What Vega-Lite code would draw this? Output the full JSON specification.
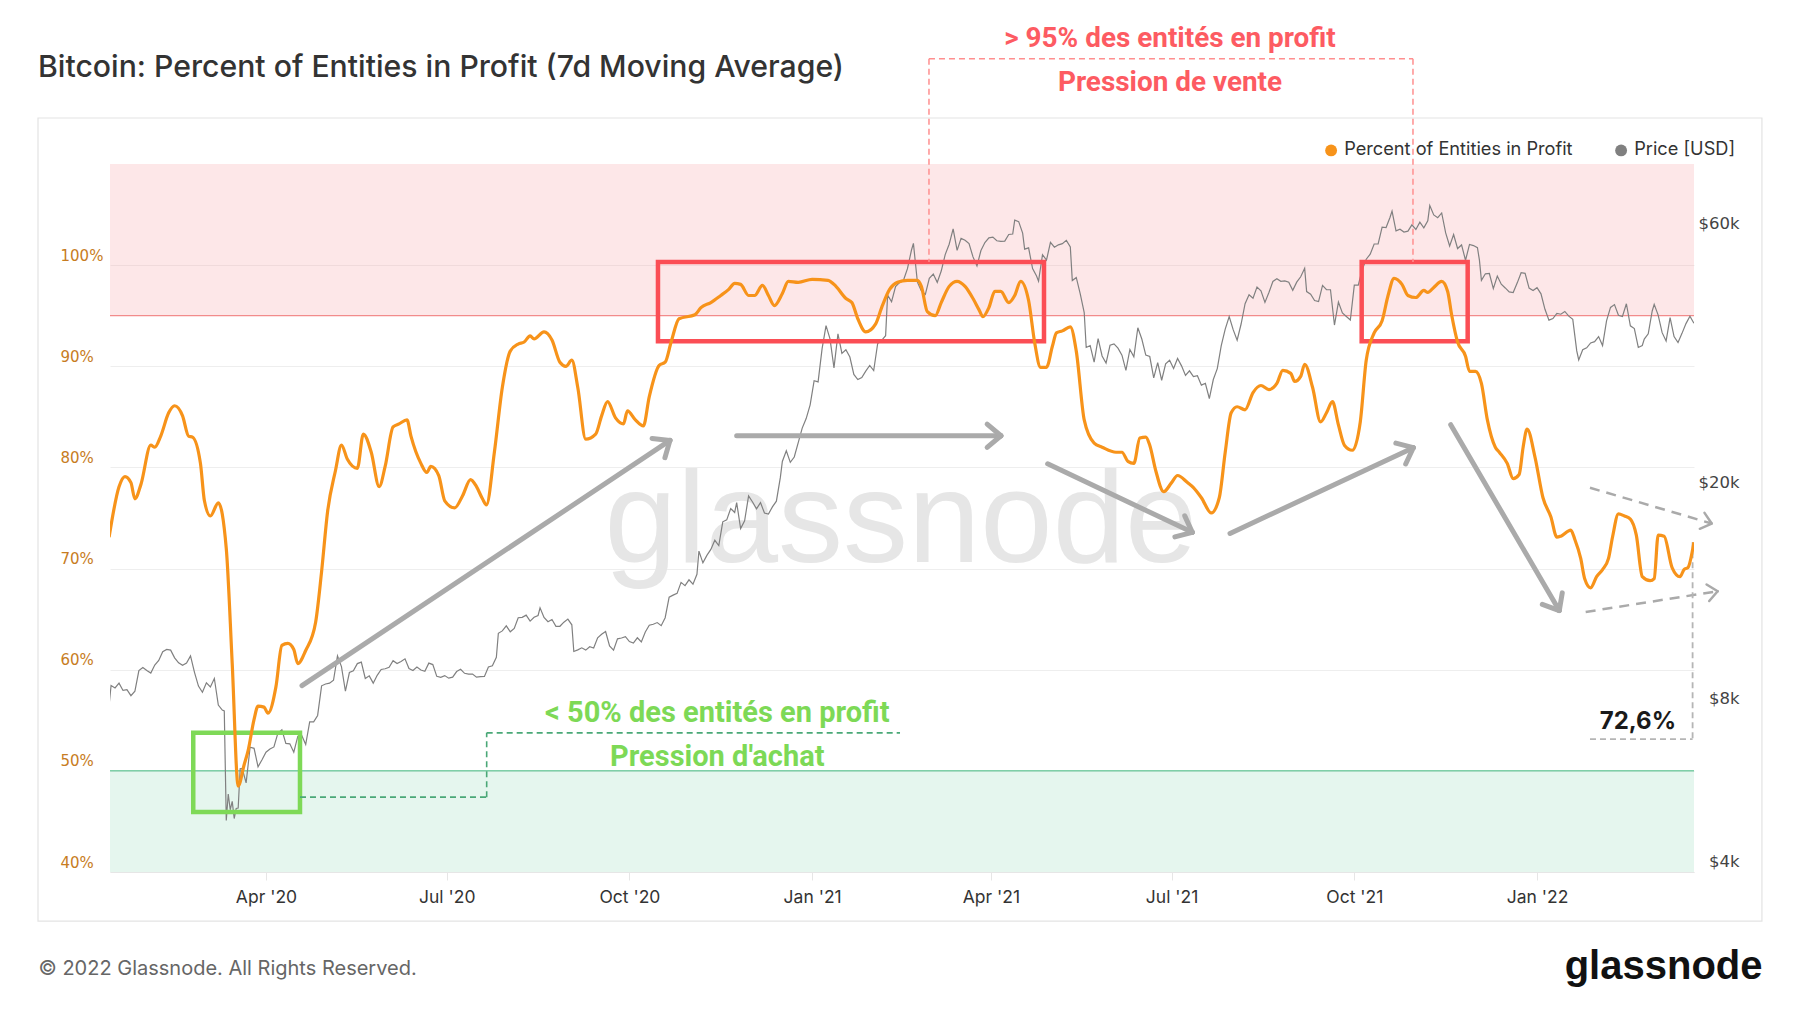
{
"$schema": "https://vega.github.io/schema/vega-lite/v6.json",
"width": 1584, "height": 708,
"autosize": "none",
"padding": {"left": 110, "top": 164, "right": 106, "bottom": 141},
"background": "#ffffff",
"title": {"text": "Bitcoin: Percent of Entities in Profit (7d Moving Average)", "anchor": "start", "frame": "group", "dx": -72, "offset": -58, "font": "Inter", "fontSize": 30.2, "fontWeight": 500, "color": "#333333"},
"config": {"view": {"stroke": null}, "font": "Inter"},
"datasets": {
"pct": [
{"d":"2020-01-13","p":73.1},{"d":"2020-01-18","p":78.1},{"d":"2020-01-21","p":79.1},{"d":"2020-01-24","p":78.5},{"d":"2020-01-26","p":76.9},{"d":"2020-01-29","p":78.3},{"d":"2020-02-03","p":82.2},{"d":"2020-02-05","p":82.0},{"d":"2020-02-08","p":83.1},{"d":"2020-02-12","p":85.4},{"d":"2020-02-15","p":86.1},{"d":"2020-02-19","p":85.1},{"d":"2020-02-22","p":83.1},{"d":"2020-02-24","p":83.0},{"d":"2020-02-28","p":80.4},{"d":"2020-03-01","p":76.7},{"d":"2020-03-04","p":75.2},{"d":"2020-03-08","p":76.5},{"d":"2020-03-12","p":72.0},{"d":"2020-03-15","p":60.6},{"d":"2020-03-18","p":48.5},{"d":"2020-03-21","p":50.6},{"d":"2020-03-23","p":52.0},{"d":"2020-03-26","p":55.1},{"d":"2020-03-28","p":56.4},{"d":"2020-03-31","p":56.3},{"d":"2020-04-02","p":55.7},{"d":"2020-04-06","p":58.3},{"d":"2020-04-09","p":62.4},{"d":"2020-04-12","p":62.6},{"d":"2020-04-15","p":62.0},{"d":"2020-04-17","p":60.6},{"d":"2020-04-21","p":61.9},{"d":"2020-04-26","p":64.7},{"d":"2020-04-29","p":69.7},{"d":"2020-05-02","p":75.6},{"d":"2020-05-06","p":79.7},{"d":"2020-05-09","p":82.2},{"d":"2020-05-12","p":80.8},{"d":"2020-05-17","p":79.9},{"d":"2020-05-20","p":83.3},{"d":"2020-05-24","p":81.5},{"d":"2020-05-28","p":78.1},{"d":"2020-05-31","p":80.1},{"d":"2020-06-04","p":84.0},{"d":"2020-06-07","p":84.3},{"d":"2020-06-11","p":84.7},{"d":"2020-06-13","p":83.1},{"d":"2020-06-18","p":80.4},{"d":"2020-06-21","p":79.5},{"d":"2020-06-23","p":80.1},{"d":"2020-06-27","p":79.2},{"d":"2020-06-30","p":76.7},{"d":"2020-07-05","p":76.0},{"d":"2020-07-09","p":77.2},{"d":"2020-07-13","p":78.8},{"d":"2020-07-16","p":78.1},{"d":"2020-07-19","p":76.9},{"d":"2020-07-21","p":76.3},{"d":"2020-07-25","p":81.5},{"d":"2020-07-29","p":87.9},{"d":"2020-08-02","p":91.5},{"d":"2020-08-06","p":92.2},{"d":"2020-08-09","p":92.4},{"d":"2020-08-12","p":93.0},{"d":"2020-08-14","p":92.7},{"d":"2020-08-19","p":93.4},{"d":"2020-08-23","p":92.6},{"d":"2020-08-27","p":90.4},{"d":"2020-08-30","p":90.0},{"d":"2020-09-02","p":90.6},{"d":"2020-09-05","p":87.9},{"d":"2020-09-09","p":82.8},{"d":"2020-09-14","p":83.3},{"d":"2020-09-17","p":85.1},{"d":"2020-09-20","p":86.5},{"d":"2020-09-24","p":84.9},{"d":"2020-09-28","p":84.3},{"d":"2020-09-30","p":85.6},{"d":"2020-10-04","p":84.7},{"d":"2020-10-08","p":84.1},{"d":"2020-10-11","p":87.0},{"d":"2020-10-16","p":90.1},{"d":"2020-10-19","p":90.4},{"d":"2020-10-22","p":92.4},{"d":"2020-10-26","p":94.7},{"d":"2020-11-03","p":95.1},{"d":"2020-11-06","p":95.8},{"d":"2020-11-11","p":96.3},{"d":"2020-11-16","p":97.0},{"d":"2020-11-20","p":97.6},{"d":"2020-11-23","p":98.2},{"d":"2020-11-26","p":98.1},{"d":"2020-11-30","p":97.0},{"d":"2020-12-03","p":97.0},{"d":"2020-12-07","p":98.0},{"d":"2020-12-10","p":97.0},{"d":"2020-12-13","p":96.0},{"d":"2020-12-17","p":97.2},{"d":"2020-12-20","p":98.4},{"d":"2020-12-25","p":98.3},{"d":"2021-01-01","p":98.6},{"d":"2021-01-09","p":98.5},{"d":"2021-01-13","p":97.9},{"d":"2021-01-18","p":96.7},{"d":"2021-01-21","p":96.3},{"d":"2021-01-24","p":94.7},{"d":"2021-01-28","p":93.4},{"d":"2021-02-02","p":94.2},{"d":"2021-02-05","p":95.8},{"d":"2021-02-09","p":97.6},{"d":"2021-02-13","p":98.3},{"d":"2021-02-18","p":98.5},{"d":"2021-02-23","p":98.5},{"d":"2021-02-25","p":97.9},{"d":"2021-02-28","p":95.4},{"d":"2021-03-04","p":95.0},{"d":"2021-03-07","p":96.3},{"d":"2021-03-11","p":97.9},{"d":"2021-03-15","p":98.4},{"d":"2021-03-19","p":97.9},{"d":"2021-03-23","p":96.7},{"d":"2021-03-26","p":95.6},{"d":"2021-03-28","p":94.9},{"d":"2021-03-31","p":95.8},{"d":"2021-04-03","p":97.4},{"d":"2021-04-06","p":97.4},{"d":"2021-04-10","p":96.3},{"d":"2021-04-13","p":97.0},{"d":"2021-04-16","p":98.4},{"d":"2021-04-20","p":96.5},{"d":"2021-04-23","p":92.4},{"d":"2021-04-26","p":89.9},{"d":"2021-04-29","p":89.9},{"d":"2021-05-02","p":92.0},{"d":"2021-05-04","p":93.3},{"d":"2021-05-07","p":93.5},{"d":"2021-05-11","p":93.9},{"d":"2021-05-14","p":91.5},{"d":"2021-05-18","p":84.7},{"d":"2021-05-23","p":82.4},{"d":"2021-05-27","p":82.0},{"d":"2021-06-03","p":81.5},{"d":"2021-06-06","p":81.5},{"d":"2021-06-09","p":80.6},{"d":"2021-06-12","p":80.4},{"d":"2021-06-15","p":82.9},{"d":"2021-06-18","p":83.0},{"d":"2021-06-20","p":82.2},{"d":"2021-06-23","p":79.7},{"d":"2021-06-27","p":77.6},{"d":"2021-07-01","p":78.5},{"d":"2021-07-04","p":79.2},{"d":"2021-07-09","p":78.5},{"d":"2021-07-12","p":78.0},{"d":"2021-07-16","p":77.0},{"d":"2021-07-21","p":75.5},{"d":"2021-07-25","p":77.0},{"d":"2021-07-28","p":81.5},{"d":"2021-07-31","p":85.4},{"d":"2021-08-03","p":86.0},{"d":"2021-08-07","p":85.7},{"d":"2021-08-11","p":87.4},{"d":"2021-08-15","p":88.1},{"d":"2021-08-19","p":87.7},{"d":"2021-08-23","p":88.3},{"d":"2021-08-26","p":89.6},{"d":"2021-08-30","p":89.3},{"d":"2021-09-01","p":88.5},{"d":"2021-09-04","p":89.0},{"d":"2021-09-06","p":90.2},{"d":"2021-09-10","p":87.9},{"d":"2021-09-14","p":84.5},{"d":"2021-09-17","p":85.4},{"d":"2021-09-20","p":86.5},{"d":"2021-09-23","p":84.2},{"d":"2021-09-26","p":82.2},{"d":"2021-09-30","p":81.7},{"d":"2021-10-04","p":84.5},{"d":"2021-10-07","p":90.6},{"d":"2021-10-11","p":93.3},{"d":"2021-10-15","p":94.5},{"d":"2021-10-18","p":97.0},{"d":"2021-10-21","p":98.7},{"d":"2021-10-25","p":98.1},{"d":"2021-10-28","p":97.0},{"d":"2021-11-01","p":96.8},{"d":"2021-11-05","p":97.5},{"d":"2021-11-07","p":97.3},{"d":"2021-11-10","p":97.8},{"d":"2021-11-14","p":98.4},{"d":"2021-11-17","p":97.4},{"d":"2021-11-19","p":95.1},{"d":"2021-11-22","p":92.4},{"d":"2021-11-26","p":91.0},{"d":"2021-11-28","p":89.5},{"d":"2021-12-01","p":89.5},{"d":"2021-12-04","p":88.3},{"d":"2021-12-07","p":84.7},{"d":"2021-12-11","p":82.0},{"d":"2021-12-13","p":81.5},{"d":"2021-12-17","p":80.4},{"d":"2021-12-20","p":78.9},{"d":"2021-12-23","p":79.3},{"d":"2021-12-25","p":82.0},{"d":"2021-12-27","p":83.8},{"d":"2021-12-31","p":81.0},{"d":"2022-01-04","p":77.0},{"d":"2022-01-08","p":75.1},{"d":"2022-01-11","p":73.1},{"d":"2022-01-13","p":73.2},{"d":"2022-01-18","p":73.8},{"d":"2022-01-20","p":72.9},{"d":"2022-01-23","p":71.0},{"d":"2022-01-25","p":69.0},{"d":"2022-01-28","p":68.1},{"d":"2022-01-31","p":69.2},{"d":"2022-02-03","p":69.9},{"d":"2022-02-06","p":71.0},{"d":"2022-02-08","p":73.1},{"d":"2022-02-11","p":75.4},{"d":"2022-02-14","p":75.2},{"d":"2022-02-17","p":74.9},{"d":"2022-02-20","p":73.3},{"d":"2022-02-23","p":69.2},{"d":"2022-02-27","p":68.8},{"d":"2022-03-01","p":69.0},{"d":"2022-03-03","p":73.3},{"d":"2022-03-06","p":73.2},{"d":"2022-03-10","p":70.1},{"d":"2022-03-14","p":69.2},{"d":"2022-03-16","p":69.9},{"d":"2022-03-18","p":70.1},{"d":"2022-03-21","p":72.6}
],
"price": [
{"d":"2020-01-13","v":8110},{"d":"2020-01-14","v":8810},{"d":"2020-01-16","v":8720},{"d":"2020-01-18","v":8900},{"d":"2020-01-20","v":8630},{"d":"2020-01-22","v":8660},{"d":"2020-01-24","v":8440},{"d":"2020-01-26","v":8600},{"d":"2020-01-28","v":9390},{"d":"2020-01-30","v":9510},{"d":"2020-02-01","v":9390},{"d":"2020-02-03","v":9290},{"d":"2020-02-05","v":9610},{"d":"2020-02-07","v":9800},{"d":"2020-02-09","v":10170},{"d":"2020-02-11","v":10270},{"d":"2020-02-13","v":10240},{"d":"2020-02-15","v":9910},{"d":"2020-02-17","v":9700},{"d":"2020-02-19","v":9600},{"d":"2020-02-21","v":9690},{"d":"2020-02-23","v":9990},{"d":"2020-02-25","v":9320},{"d":"2020-02-27","v":8790},{"d":"2020-02-29","v":8560},{"d":"2020-03-02","v":8910},{"d":"2020-03-04","v":8760},{"d":"2020-03-06","v":9080},{"d":"2020-03-08","v":8110},{"d":"2020-03-10","v":7940},{"d":"2020-03-11","v":7910},{"d":"2020-03-12","v":4970},{"d":"2020-03-13","v":5560},{"d":"2020-03-14","v":5200},{"d":"2020-03-15","v":5390},{"d":"2020-03-16","v":5010},{"d":"2020-03-17","v":5230},{"d":"2020-03-18","v":5240},{"d":"2020-03-19","v":6190},{"d":"2020-03-20","v":6200},{"d":"2020-03-22","v":5830},{"d":"2020-03-24","v":6780},{"d":"2020-03-26","v":6750},{"d":"2020-03-28","v":6240},{"d":"2020-03-30","v":6430},{"d":"2020-04-01","v":6640},{"d":"2020-04-03","v":6730},{"d":"2020-04-05","v":6790},{"d":"2020-04-07","v":7200},{"d":"2020-04-09","v":7300},{"d":"2020-04-11","v":6890},{"d":"2020-04-13","v":6880},{"d":"2020-04-15","v":6640},{"d":"2020-04-17","v":7100},{"d":"2020-04-19","v":7130},{"d":"2020-04-21","v":6860},{"d":"2020-04-23","v":7550},{"d":"2020-04-25","v":7550},{"d":"2020-04-27","v":7760},{"d":"2020-04-29","v":8800},{"d":"2020-05-01","v":8870},{"d":"2020-05-03","v":8900},{"d":"2020-05-05","v":9010},{"d":"2020-05-07","v":9990},{"d":"2020-05-09","v":9550},{"d":"2020-05-11","v":8600},{"d":"2020-05-13","v":9310},{"d":"2020-05-15","v":9380},{"d":"2020-05-17","v":9670},{"d":"2020-05-19","v":9730},{"d":"2020-05-21","v":9080},{"d":"2020-05-23","v":9180},{"d":"2020-05-25","v":8900},{"d":"2020-05-27","v":9200},{"d":"2020-05-29","v":9430},{"d":"2020-05-31","v":9460},{"d":"2020-06-02","v":9520},{"d":"2020-06-04","v":9790},{"d":"2020-06-06","v":9670},{"d":"2020-06-08","v":9760},{"d":"2020-06-10","v":9870},{"d":"2020-06-12","v":9470},{"d":"2020-06-14","v":9390},{"d":"2020-06-16","v":9530},{"d":"2020-06-18","v":9410},{"d":"2020-06-20","v":9360},{"d":"2020-06-22","v":9690},{"d":"2020-06-24","v":9630},{"d":"2020-06-26","v":9160},{"d":"2020-06-28","v":9120},{"d":"2020-06-30","v":9190},{"d":"2020-07-02","v":9090},{"d":"2020-07-04","v":9130},{"d":"2020-07-06","v":9350},{"d":"2020-07-08","v":9440},{"d":"2020-07-10","v":9280},{"d":"2020-07-12","v":9250},{"d":"2020-07-14","v":9250},{"d":"2020-07-16","v":9130},{"d":"2020-07-18","v":9150},{"d":"2020-07-20","v":9160},{"d":"2020-07-22","v":9530},{"d":"2020-07-24","v":9580},{"d":"2020-07-26","v":9930},{"d":"2020-07-27","v":11000},{"d":"2020-07-29","v":11110},{"d":"2020-07-31","v":11350},{"d":"2020-08-02","v":11070},{"d":"2020-08-04","v":11230},{"d":"2020-08-06","v":11750},{"d":"2020-08-08","v":11770},{"d":"2020-08-10","v":11880},{"d":"2020-08-12","v":11580},{"d":"2020-08-14","v":11770},{"d":"2020-08-16","v":11860},{"d":"2020-08-17","v":12250},{"d":"2020-08-19","v":11760},{"d":"2020-08-21","v":11550},{"d":"2020-08-23","v":11660},{"d":"2020-08-25","v":11330},{"d":"2020-08-27","v":11330},{"d":"2020-08-29","v":11530},{"d":"2020-08-31","v":11680},{"d":"2020-09-02","v":11400},{"d":"2020-09-03","v":10180},{"d":"2020-09-05","v":10250},{"d":"2020-09-07","v":10340},{"d":"2020-09-09","v":10240},{"d":"2020-09-11","v":10390},{"d":"2020-09-13","v":10330},{"d":"2020-09-15","v":10790},{"d":"2020-09-17","v":10950},{"d":"2020-09-19","v":11080},{"d":"2020-09-21","v":10420},{"d":"2020-09-23","v":10240},{"d":"2020-09-25","v":10740},{"d":"2020-09-27","v":10780},{"d":"2020-09-29","v":10840},{"d":"2020-10-01","v":10620},{"d":"2020-10-03","v":10550},{"d":"2020-10-05","v":10790},{"d":"2020-10-07","v":10600},{"d":"2020-10-09","v":11060},{"d":"2020-10-11","v":11380},{"d":"2020-10-13","v":11430},{"d":"2020-10-15","v":11510},{"d":"2020-10-17","v":11360},{"d":"2020-10-19","v":11750},{"d":"2020-10-21","v":12820},{"d":"2020-10-23","v":12930},{"d":"2020-10-25","v":13030},{"d":"2020-10-27","v":13650},{"d":"2020-10-29","v":13460},{"d":"2020-10-31","v":13800},{"d":"2020-11-02","v":13550},{"d":"2020-11-04","v":14130},{"d":"2020-11-05","v":15590},{"d":"2020-11-07","v":14830},{"d":"2020-11-09","v":15310},{"d":"2020-11-11","v":15700},{"d":"2020-11-13","v":16320},{"d":"2020-11-15","v":15960},{"d":"2020-11-17","v":17650},{"d":"2020-11-19","v":17800},{"d":"2020-11-21","v":18680},{"d":"2020-11-23","v":18370},{"d":"2020-11-24","v":19150},{"d":"2020-11-26","v":17150},{"d":"2020-11-28","v":17730},{"d":"2020-11-30","v":19700},{"d":"2020-12-02","v":19200},{"d":"2020-12-04","v":18650},{"d":"2020-12-06","v":19150},{"d":"2020-12-08","v":18320},{"d":"2020-12-10","v":18240},{"d":"2020-12-12","v":18810},{"d":"2020-12-14","v":19270},{"d":"2020-12-16","v":21310},{"d":"2020-12-17","v":22800},{"d":"2020-12-19","v":23860},{"d":"2020-12-21","v":22720},{"d":"2020-12-23","v":23240},{"d":"2020-12-25","v":24710},{"d":"2020-12-27","v":26270},{"d":"2020-12-29","v":27360},{"d":"2020-12-31","v":29000},{"d":"2021-01-02","v":32130},{"d":"2021-01-04","v":31970},{"d":"2021-01-06","v":36770},{"d":"2021-01-08","v":40580},{"d":"2021-01-10","v":38360},{"d":"2021-01-12","v":33920},{"d":"2021-01-14","v":39190},{"d":"2021-01-16","v":36070},{"d":"2021-01-18","v":36630},{"d":"2021-01-20","v":35530},{"d":"2021-01-22","v":33000},{"d":"2021-01-24","v":32290},{"d":"2021-01-26","v":32570},{"d":"2021-01-28","v":33470},{"d":"2021-01-30","v":34270},{"d":"2021-02-01","v":33540},{"d":"2021-02-03","v":37620},{"d":"2021-02-05","v":38140},{"d":"2021-02-07","v":38900},{"d":"2021-02-08","v":46200},{"d":"2021-02-10","v":44920},{"d":"2021-02-12","v":47910},{"d":"2021-02-14","v":48720},{"d":"2021-02-16","v":49200},{"d":"2021-02-18","v":51680},{"d":"2021-02-20","v":55890},{"d":"2021-02-21","v":57540},{"d":"2021-02-23","v":48820},{"d":"2021-02-25","v":47020},{"d":"2021-02-27","v":46340},{"d":"2021-03-01","v":49630},{"d":"2021-03-03","v":50540},{"d":"2021-03-05","v":48770},{"d":"2021-03-07","v":51170},{"d":"2021-03-09","v":54880},{"d":"2021-03-11","v":57330},{"d":"2021-03-13","v":61200},{"d":"2021-03-15","v":55850},{"d":"2021-03-17","v":58790},{"d":"2021-03-19","v":58330},{"d":"2021-03-21","v":57500},{"d":"2021-03-23","v":54340},{"d":"2021-03-25","v":52300},{"d":"2021-03-27","v":55830},{"d":"2021-03-29","v":57750},{"d":"2021-03-31","v":58920},{"d":"2021-04-02","v":59100},{"d":"2021-04-04","v":58200},{"d":"2021-04-06","v":58020},{"d":"2021-04-08","v":58100},{"d":"2021-04-10","v":59770},{"d":"2021-04-12","v":59890},{"d":"2021-04-13","v":63500},{"d":"2021-04-15","v":63110},{"d":"2021-04-17","v":60110},{"d":"2021-04-18","v":56150},{"d":"2021-04-20","v":56470},{"d":"2021-04-22","v":51700},{"d":"2021-04-24","v":50090},{"d":"2021-04-25","v":49010},{"d":"2021-04-27","v":54840},{"d":"2021-04-29","v":53590},{"d":"2021-05-01","v":57800},{"d":"2021-05-03","v":56620},{"d":"2021-05-05","v":57200},{"d":"2021-05-07","v":57490},{"d":"2021-05-09","v":58280},{"d":"2021-05-11","v":56710},{"d":"2021-05-12","v":49150},{"d":"2021-05-14","v":49800},{"d":"2021-05-16","v":46430},{"d":"2021-05-18","v":42900},{"d":"2021-05-19","v":37000},{"d":"2021-05-21","v":37280},{"d":"2021-05-23","v":34770},{"d":"2021-05-25","v":38400},{"d":"2021-05-27","v":35680},{"d":"2021-05-29","v":34620},{"d":"2021-05-31","v":37340},{"d":"2021-06-02","v":37570},{"d":"2021-06-04","v":36890},{"d":"2021-06-06","v":35800},{"d":"2021-06-08","v":33560},{"d":"2021-06-10","v":36690},{"d":"2021-06-12","v":35560},{"d":"2021-06-14","v":40220},{"d":"2021-06-16","v":38350},{"d":"2021-06-18","v":35820},{"d":"2021-06-20","v":35600},{"d":"2021-06-22","v":32510},{"d":"2021-06-24","v":34680},{"d":"2021-06-26","v":32190},{"d":"2021-06-28","v":34500},{"d":"2021-06-30","v":35040},{"d":"2021-07-02","v":33850},{"d":"2021-07-04","v":35300},{"d":"2021-07-06","v":34220},{"d":"2021-07-08","v":32860},{"d":"2021-07-10","v":33510},{"d":"2021-07-12","v":32700},{"d":"2021-07-14","v":32820},{"d":"2021-07-16","v":31530},{"d":"2021-07-18","v":31780},{"d":"2021-07-20","v":29790},{"d":"2021-07-22","v":32290},{"d":"2021-07-24","v":33820},{"d":"2021-07-26","v":37290},{"d":"2021-07-28","v":39980},{"d":"2021-07-30","v":42190},{"d":"2021-08-01","v":39900},{"d":"2021-08-03","v":38150},{"d":"2021-08-05","v":40870},{"d":"2021-08-07","v":44560},{"d":"2021-08-09","v":46280},{"d":"2021-08-11","v":45590},{"d":"2021-08-13","v":47800},{"d":"2021-08-15","v":47050},{"d":"2021-08-17","v":44800},{"d":"2021-08-19","v":46720},{"d":"2021-08-21","v":48960},{"d":"2021-08-23","v":49510},{"d":"2021-08-25","v":48990},{"d":"2021-08-27","v":49060},{"d":"2021-08-29","v":48810},{"d":"2021-08-31","v":47150},{"d":"2021-09-02","v":48820},{"d":"2021-09-04","v":49940},{"d":"2021-09-06","v":51760},{"d":"2021-09-07","v":46890},{"d":"2021-09-09","v":46390},{"d":"2021-09-11","v":45160},{"d":"2021-09-13","v":44960},{"d":"2021-09-15","v":48150},{"d":"2021-09-17","v":47270},{"d":"2021-09-19","v":47270},{"d":"2021-09-21","v":40690},{"d":"2021-09-23","v":44850},{"d":"2021-09-25","v":42840},{"d":"2021-09-27","v":42200},{"d":"2021-09-29","v":41560},{"d":"2021-10-01","v":48200},{"d":"2021-10-03","v":48200},{"d":"2021-10-05","v":51510},{"d":"2021-10-07","v":53800},{"d":"2021-10-09","v":54970},{"d":"2021-10-11","v":57400},{"d":"2021-10-13","v":57400},{"d":"2021-10-15","v":61670},{"d":"2021-10-17","v":61550},{"d":"2021-10-19","v":64290},{"d":"2021-10-20","v":66000},{"d":"2021-10-22","v":60690},{"d":"2021-10-24","v":61130},{"d":"2021-10-26","v":60390},{"d":"2021-10-28","v":60610},{"d":"2021-10-30","v":62250},{"d":"2021-11-01","v":61040},{"d":"2021-11-03","v":62970},{"d":"2021-11-05","v":61450},{"d":"2021-11-07","v":63330},{"d":"2021-11-08","v":67560},{"d":"2021-11-10","v":64950},{"d":"2021-11-12","v":64160},{"d":"2021-11-14","v":65470},{"d":"2021-11-16","v":60160},{"d":"2021-11-18","v":56900},{"d":"2021-11-20","v":59740},{"d":"2021-11-22","v":56300},{"d":"2021-11-24","v":57160},{"d":"2021-11-26","v":53570},{"d":"2021-11-28","v":57280},{"d":"2021-11-30","v":57010},{"d":"2021-12-02","v":56500},{"d":"2021-12-03","v":53600},{"d":"2021-12-04","v":49200},{"d":"2021-12-06","v":50580},{"d":"2021-12-08","v":50640},{"d":"2021-12-10","v":47500},{"d":"2021-12-12","v":50100},{"d":"2021-12-14","v":48380},{"d":"2021-12-16","v":47630},{"d":"2021-12-18","v":46850},{"d":"2021-12-20","v":46710},{"d":"2021-12-22","v":48620},{"d":"2021-12-24","v":50820},{"d":"2021-12-26","v":50680},{"d":"2021-12-28","v":47590},{"d":"2021-12-30","v":47120},{"d":"2022-01-01","v":47690},{"d":"2022-01-03","v":46460},{"d":"2022-01-05","v":43500},{"d":"2022-01-07","v":41550},{"d":"2022-01-09","v":41820},{"d":"2022-01-11","v":42740},{"d":"2022-01-13","v":42600},{"d":"2022-01-15","v":43100},{"d":"2022-01-17","v":42250},{"d":"2022-01-19","v":41680},{"d":"2022-01-21","v":36460},{"d":"2022-01-22","v":35080},{"d":"2022-01-24","v":36650},{"d":"2022-01-26","v":36950},{"d":"2022-01-28","v":37720},{"d":"2022-01-30","v":37920},{"d":"2022-02-01","v":38740},{"d":"2022-02-03","v":37290},{"d":"2022-02-05","v":41410},{"d":"2022-02-07","v":43850},{"d":"2022-02-09","v":44380},{"d":"2022-02-11","v":42410},{"d":"2022-02-13","v":42200},{"d":"2022-02-15","v":44540},{"d":"2022-02-17","v":40550},{"d":"2022-02-19","v":40090},{"d":"2022-02-21","v":37000},{"d":"2022-02-23","v":37300},{"d":"2022-02-24","v":38330},{"d":"2022-02-26","v":39210},{"d":"2022-02-28","v":43190},{"d":"2022-03-01","v":44420},{"d":"2022-03-03","v":42450},{"d":"2022-03-05","v":39400},{"d":"2022-03-07","v":38030},{"d":"2022-03-09","v":41980},{"d":"2022-03-11","v":38750},{"d":"2022-03-13","v":37790},{"d":"2022-03-15","v":39280},{"d":"2022-03-17","v":40940},{"d":"2022-03-19","v":42240},{"d":"2022-03-21","v":41000}
]
},
"layer": [
{
 "layer": [
  {"data": {"values": [{"d": "2019-12-08T05:00:00Z", "d2": "2022-04-24T06:00:00Z", "p": 114.55, "p2": 35.15}]},
   "mark": {"type": "rect", "filled": false, "stroke": "#e3e3e3", "strokeWidth": 1.2},
   "encoding": {
    "x": {"field": "d", "type": "temporal", "scale": {"type": "utc", "domain": [{"year": 2020, "month": 1, "date": 13, "hours": 11, "utc": true}, {"year": 2022, "month": 3, "date": 21, "hours": 1, "utc": true}], "nice": false}},
    "x2": {"field": "d2"},
    "y": {"field": "p", "type": "quantitative", "scale": {"domain": [40, 110], "nice": false, "zero": false}, "axis": null},
    "y2": {"field": "p2"}}},
  {"data": {"values": [{"p": 95, "p2": 110}]},
   "mark": {"type": "rect", "color": "#f9a8aa", "opacity": 0.27},
   "encoding": {"y": {"field": "p", "type": "quantitative", "axis": null}, "y2": {"field": "p2"}}},
  {"data": {"values": [{"p": 40, "p2": 50}]},
   "mark": {"type": "rect", "color": "#7fd3a8", "opacity": 0.2},
   "encoding": {"y": {"field": "p", "type": "quantitative", "axis": null}, "y2": {"field": "p2"}}},
  {"data": {"values": [{"p": 95}]},
   "mark": {"type": "rule", "color": "#f28b8b", "strokeWidth": 1.2},
   "encoding": {"y": {"field": "p", "type": "quantitative", "axis": null}}},
  {"data": {"values": [{"p": 50}]},
   "mark": {"type": "rule", "color": "#7fcfa8", "strokeWidth": 1.5},
   "encoding": {"y": {"field": "p", "type": "quantitative", "axis": null}}},
  {"data": {"values": [{"d": "2021-02-14T17:00:00Z", "p": 70.69, "t": "glassnode"}]},
   "mark": {"type": "text", "font": "Liberation Sans", "fontSize": 130, "color": "#e6e6e6", "align": "center", "baseline": "alphabetic"},
   "encoding": {"x": {"field": "d", "type": "temporal"}, "y": {"field": "p", "type": "quantitative", "axis": null}, "text": {"field": "t", "type": "nominal"}}}
 ]
},
{
 "data": {"name": "price"},
 "mark": {"type": "line", "strokeWidth": 1.2, "clip": true},
 "encoding": {
  "x": {"field": "d", "type": "temporal"},
  "y": {"field": "v", "type": "quantitative", "scale": {"type": "log", "domain": [3993, 80600], "nice": false},
   "axis": {"orient": "right", "values": [4000, 8000, 20000, 60000], "labelExpr": "'$' + (datum.value/1000) + 'k'", "labelFont": "DejaVu Sans", "labelFontSize": 16.5, "labelColor": "#444444", "labelAlign": "right", "labelPadding": 45, "labelOffset": -10, "ticks": false, "tickSize": 0, "domain": false, "grid": false, "labelOverlap": false,
    "title": "glassnode", "titleX": 68, "titleY": 814, "titleAngle": 0, "titleAlign": "right", "titleBaseline": "alphabetic", "titleFont": "Liberation Sans", "titleFontSize": 40, "titleFontWeight": "bold", "titleColor": "#111111"}},
  "color": {"datum": "Price [USD]"}
 }
},
{
 "layer": [
  {"data": {"values": [{"d": "2020-10-15T09:00:00Z", "d2": "2021-04-27T18:00:00Z", "p": 92.48, "p2": 100.3}, {"d": "2021-10-04T17:00:00Z", "d2": "2021-11-27T02:00:00Z", "p": 92.48, "p2": 100.3}]},
   "mark": {"type": "rect", "filled": false, "stroke": "#fb4e55", "strokeWidth": 4.5},
   "encoding": {
    "x": {"field": "d", "type": "temporal"}, "x2": {"field": "d2"},
    "y": {"field": "p", "type": "quantitative", "scale": {"domain": [40, 110], "nice": false, "zero": false}, "axis": null}, "y2": {"field": "p2"}}},
  {"data": {"values": [{"d": "2020-02-24T09:00:00Z", "d2": "2020-04-18T03:00:00Z", "p": 45.94, "p2": 53.76}]},
   "mark": {"type": "rect", "filled": false, "stroke": "#7ed957", "strokeWidth": 4.5},
   "encoding": {"x": {"field": "d", "type": "temporal"}, "x2": {"field": "d2"}, "y": {"field": "p", "type": "quantitative", "axis": null}, "y2": {"field": "p2"}}},
  {"data": {"values": [
    {"d": "2021-02-28T20:00:00Z", "p": 120.4, "d2": "2021-10-30T13:00:00Z", "p2": 120.4},
    {"d": "2021-02-28T20:00:00Z", "p": 120.4, "d2": "2021-02-28T20:00:00Z", "p2": 100.3},
    {"d": "2021-10-30T13:00:00Z", "p": 120.4, "d2": "2021-10-30T13:00:00Z", "p2": 100.3}]},
   "mark": {"type": "rule", "color": "#ff8f8f", "strokeWidth": 1.5, "strokeDash": [6, 4]},
   "encoding": {"x": {"field": "d", "type": "temporal"}, "x2": {"field": "d2"}, "y": {"field": "p", "type": "quantitative", "axis": null}, "y2": {"field": "p2"}}},
  {"data": {"values": [
    {"d": "2020-04-18T03:00:00Z", "p": 47.4, "d2": "2020-07-21T03:00:00Z", "p2": 47.4},
    {"d": "2020-07-21T03:00:00Z", "p": 47.4, "d2": "2020-07-21T03:00:00Z", "p2": 53.76},
    {"d": "2020-07-21T03:00:00Z", "p": 53.76, "d2": "2021-02-14T06:00:00Z", "p2": 53.76}]},
   "mark": {"type": "rule", "color": "#4aa877", "strokeWidth": 1.6, "strokeDash": [6, 4]},
   "encoding": {"x": {"field": "d", "type": "temporal"}, "x2": {"field": "d2"}, "y": {"field": "p", "type": "quantitative", "axis": null}, "y2": {"field": "p2"}}},
  {"data": {"values": [
    {"d": "2020-04-19T03:00:00Z", "p": 58.42, "d2": "2020-10-21T10:00:00Z", "p2": 82.67},
    {"d": "2020-10-12T10:00:00Z", "p": 82.87, "d2": "2020-10-21T10:00:00Z", "p2": 82.67},
    {"d": "2020-10-18T21:00:00Z", "p": 80.96, "d2": "2020-10-21T10:00:00Z", "p2": 82.67},
    {"d": "2020-11-24T00:00:00Z", "p": 83.13, "d2": "2021-04-06T02:00:00Z", "p2": 83.13},
    {"d": "2021-03-30T03:00:00Z", "p": 84.28, "d2": "2021-04-06T02:00:00Z", "p2": 83.13},
    {"d": "2021-03-30T03:00:00Z", "p": 81.98, "d2": "2021-04-06T02:00:00Z", "p2": 83.13},
    {"d": "2021-04-29T14:00:00Z", "p": 80.36, "d2": "2021-07-11T10:00:00Z", "p2": 73.58},
    {"d": "2021-07-07T15:00:00Z", "p": 75.21, "d2": "2021-07-11T10:00:00Z", "p2": 73.58},
    {"d": "2021-07-02T16:00:00Z", "p": 73.13, "d2": "2021-07-11T10:00:00Z", "p2": 73.58},
    {"d": "2021-07-30T10:00:00Z", "p": 73.47, "d2": "2021-10-30T17:00:00Z", "p2": 81.95},
    {"d": "2021-10-21T22:00:00Z", "p": 82.41, "d2": "2021-10-30T17:00:00Z", "p2": 81.95},
    {"d": "2021-10-26T21:00:00Z", "p": 80.34, "d2": "2021-10-30T17:00:00Z", "p2": 81.95},
    {"d": "2021-11-18T13:00:00Z", "p": 84.22, "d2": "2022-01-12T05:00:00Z", "p2": 65.85},
    {"d": "2022-01-13T17:00:00Z", "p": 67.6, "d2": "2022-01-12T05:00:00Z", "p2": 65.85},
    {"d": "2022-01-03T16:00:00Z", "p": 66.46, "d2": "2022-01-12T05:00:00Z", "p2": 65.85}]},
   "mark": {"type": "rule", "color": "#aaaaaa", "strokeWidth": 5, "strokeCap": "round"},
   "encoding": {"x": {"field": "d", "type": "temporal"}, "x2": {"field": "d2"}, "y": {"field": "p", "type": "quantitative", "axis": null}, "y2": {"field": "p2"}}},
  {"data": {"values": [
    {"d": "2022-01-27T16:00:00Z", "p": 77.99, "d2": "2022-03-29T23:00:00Z", "p2": 74.45},
    {"d": "2022-01-25T12:00:00Z", "p": 65.71, "d2": "2022-04-01T23:00:00Z", "p2": 67.76}]},
   "mark": {"type": "rule", "color": "#aaaaaa", "strokeWidth": 2.5, "strokeDash": [10, 7]},
   "encoding": {"x": {"field": "d", "type": "temporal"}, "x2": {"field": "d2"}, "y": {"field": "p", "type": "quantitative", "axis": null}, "y2": {"field": "p2"}}},
  {"data": {"values": [
    {"d": "2022-03-26T08:00:00Z", "p": 75.51, "d2": "2022-03-29T23:00:00Z", "p2": 74.45},
    {"d": "2022-03-23T23:00:00Z", "p": 73.93, "d2": "2022-03-29T23:00:00Z", "p2": 74.45},
    {"d": "2022-03-27T09:00:00Z", "p": 68.43, "d2": "2022-04-01T23:00:00Z", "p2": 67.76},
    {"d": "2022-03-28T17:00:00Z", "p": 66.79, "d2": "2022-04-01T23:00:00Z", "p2": 67.76}]},
   "mark": {"type": "rule", "color": "#aaaaaa", "strokeWidth": 2.5, "strokeCap": "round"},
   "encoding": {"x": {"field": "d", "type": "temporal"}, "x2": {"field": "d2"}, "y": {"field": "p", "type": "quantitative", "axis": null}, "y2": {"field": "p2"}}},
  {"data": {"values": [
    {"d": "2022-03-20T08:00:00Z", "p": 72.6, "d2": "2022-03-20T08:00:00Z", "p2": 53.13},
    {"d": "2022-01-27T16:00:00Z", "p": 53.13, "d2": "2022-03-20T08:00:00Z", "p2": 53.13}]},
   "mark": {"type": "rule", "color": "#b5b5b5", "strokeWidth": 1.8, "strokeDash": [6, 4]},
   "encoding": {"x": {"field": "d", "type": "temporal"}, "x2": {"field": "d2"}, "y": {"field": "p", "type": "quantitative", "axis": null}, "y2": {"field": "p2"}}},
  {"data": {"values": [
    {"d": "2021-06-30T05:00:00Z", "p": 122.38, "t": "> 95% des entités en profit"},
    {"d": "2021-06-30T05:00:00Z", "p": 118.02, "t": "Pression de vente"}]},
   "mark": {"type": "text", "font": "Roboto", "fontWeight": "bold", "fontSize": 27.9, "color": "#fd5b62", "align": "center", "baseline": "middle"},
   "encoding": {"x": {"field": "d", "type": "temporal"}, "y": {"field": "p", "type": "quantitative", "axis": null}, "text": {"field": "t", "type": "nominal"}}},
  {"data": {"values": [
    {"d": "2020-11-14T06:00:00Z", "p": 55.74, "t": "< 50% des entités en profit"},
    {"d": "2020-11-14T06:00:00Z", "p": 51.39, "t": "Pression d'achat"}]},
   "mark": {"type": "text", "font": "Roboto", "fontWeight": "bold", "fontSize": 29, "color": "#7dd956", "align": "center", "baseline": "middle"},
   "encoding": {"x": {"field": "d", "type": "temporal"}, "y": {"field": "p", "type": "quantitative", "axis": null}, "text": {"field": "t", "type": "nominal"}}},
  {"data": {"values": [{"d": "2022-02-20T19:00:00Z", "p": 54.85, "t": "72,6%"}]},
   "mark": {"type": "text", "font": "Inter", "fontWeight": "bold", "fontSize": 24, "color": "#1a1a1a", "align": "center", "baseline": "middle"},
   "encoding": {"x": {"field": "d", "type": "temporal"}, "y": {"field": "p", "type": "quantitative", "axis": null}, "text": {"field": "t", "type": "nominal"}}}
 ]
},
{
 "data": {"name": "pct"},
 "mark": {"type": "line", "strokeWidth": 3.2, "interpolate": "monotone", "clip": true},
 "encoding": {
  "x": {"field": "d", "type": "temporal",
   "axis": {"values": [{"year": 2020, "month": 4, "date": 1, "utc": true}, {"year": 2020, "month": 7, "date": 1, "utc": true}, {"year": 2020, "month": 10, "date": 1, "utc": true}, {"year": 2021, "month": 1, "date": 1, "utc": true}, {"year": 2021, "month": 4, "date": 1, "utc": true}, {"year": 2021, "month": 7, "date": 1, "utc": true}, {"year": 2021, "month": 10, "date": 1, "utc": true}, {"year": 2022, "month": 1, "date": 1, "utc": true}],
    "format": "%b '%y", "labelFont": "Inter", "labelFontSize": 17.5, "labelColor": "#333333", "tickSize": 8, "tickColor": "#e6e6e6", "domainColor": "#e6e6e6", "grid": false, "labelPadding": 8, "labelFlush": false,
    "title": "© 2022 Glassnode. All Rights Reserved.", "titleX": -72, "titleY": 96, "titleAlign": "left", "titleAnchor": "start", "titleBaseline": "middle", "titleFont": "Inter", "titleFontSize": 20, "titleFontWeight": "normal", "titleColor": "#666666"}},
  "y": {"field": "p", "type": "quantitative", "scale": {"domain": [40, 110], "nice": false, "zero": false},
   "axis": {"orient": "left", "values": [40, 50, 60, 70, 80, 90, 100], "labelExpr": "datum.value + '%'", "labelFont": "DejaVu Sans", "labelFontSize": 15, "labelColor": "#c77c22", "labelAlign": "left", "labelPadding": 50, "labelOffset": -10, "ticks": false, "tickSize": 0, "domain": false, "grid": true, "gridColor": "#eeeeee", "gridWidth": 1, "title": null}},
  "color": {"datum": "Percent of Entities in Profit", "type": "nominal",
   "scale": {"domain": ["Percent of Entities in Profit", "Price [USD]"], "range": ["#f7931a", "#808080"]},
   "legend": {"orient": "none", "legendX": 1212, "legendY": -23, "direction": "horizontal", "title": null, "symbolType": "circle", "symbolSize": 140, "symbolStrokeWidth": 0, "labelFont": "Inter", "labelFontSize": 18.2, "labelLimit": 500, "labelColor": "#333333", "columnPadding": 39, "labelOffset": 4,
    "encode": {"symbols": {"update": {"fill": {"scale": "color", "field": "value"}, "opacity": {"value": 1}}}}}}
 }
}
],
"resolve": {"scale": {"y": "independent"}, "axis": {"y": "independent"}}
}
